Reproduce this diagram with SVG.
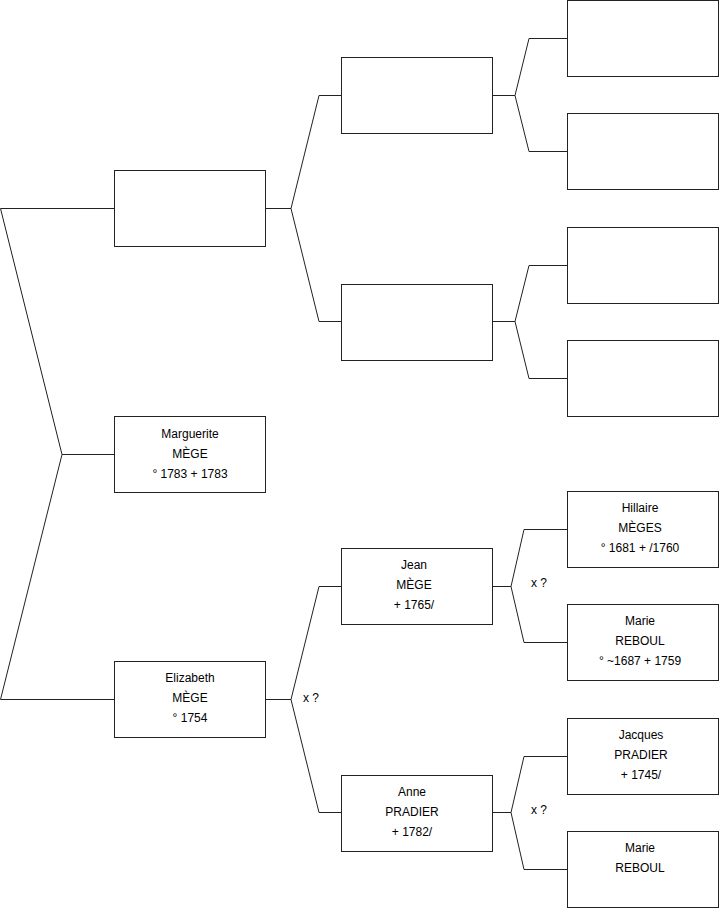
<svg xmlns="http://www.w3.org/2000/svg" width="719" height="908" viewBox="0 0 719 908">
<style>
.box{fill:#fff;stroke:#222;stroke-width:1}
.ln{fill:none;stroke:#222;stroke-width:1}
text{font-family:"Liberation Sans",Arial,sans-serif;font-size:12px;fill:#000;text-anchor:middle}
.lbl{text-anchor:start}
</style>
<rect width="719" height="908" fill="#fff"/>
<g id="connectors">
<path class="ln" d="M114,208.5H0.5L62,454.5L0.5,699.5H114M62,454.5H114"/>
<path class="ln" d="M265,208.5H291L319,95.5H341M291,208.5L319,321.5H341"/>
<path class="ln" d="M265,699.5H291L319,586.5H341M291,699.5L319,812.5H341"/>
<path class="ln" d="M492,95.5H515L529,38.5H567M515,95.5L529,151.5H567"/>
<path class="ln" d="M492,321.5H515L529,265.5H567M515,321.5L529,378.5H567"/>
<path class="ln" d="M492,586.5H511L524,529.5H567M511,586.5L524,642.5H567"/>
<path class="ln" d="M492,812.5H511L524,756.5H567M511,812.5L524,869.5H567"/>
<text class="lbl" x="303" y="702">x ?</text>
<text class="lbl" x="531" y="587">x ?</text>
<text class="lbl" x="531" y="814">x ?</text>
</g>
<g id="n1"><rect class="box" x="114.5" y="170.5" width="151" height="76"/></g>
<g id="n2"><rect class="box" x="114.5" y="416.5" width="151" height="76"/>
<text x="190" y="438">Marguerite</text><text x="190" y="458">MÈGE</text><text x="190" y="478">° 1783 + 1783</text></g>
<g id="n3"><rect class="box" x="114.5" y="661.5" width="151" height="76"/>
<text x="190" y="682">Elizabeth</text><text x="190" y="702">MÈGE</text><text x="190" y="722">° 1754</text></g>
<g id="n4"><rect class="box" x="341.5" y="57.5" width="151" height="76"/></g>
<g id="n5"><rect class="box" x="341.5" y="284.5" width="151" height="76"/></g>
<g id="n6"><rect class="box" x="341.5" y="548.5" width="151" height="76"/>
<text x="414" y="569">Jean</text><text x="414" y="589">MÈGE</text><text x="414" y="609">+ 1765/</text></g>
<g id="n7"><rect class="box" x="341.5" y="775.5" width="151" height="76"/>
<text x="412" y="796">Anne</text><text x="412" y="816">PRADIER</text><text x="412" y="836">+ 1782/</text></g>
<g id="n8"><rect class="box" x="567.5" y="0.5" width="151" height="76"/></g>
<g id="n9"><rect class="box" x="567.5" y="113.5" width="151" height="76"/></g>
<g id="n10"><rect class="box" x="567.5" y="227.5" width="151" height="76"/></g>
<g id="n11"><rect class="box" x="567.5" y="340.5" width="151" height="76"/></g>
<g id="n12"><rect class="box" x="567.5" y="491.5" width="151" height="76"/>
<text x="640" y="512">Hillaire</text><text x="640" y="532">MÈGES</text><text x="640" y="552">° 1681 + /1760</text></g>
<g id="n13"><rect class="box" x="567.5" y="604.5" width="151" height="76"/>
<text x="640" y="625">Marie</text><text x="640" y="645">REBOUL</text><text x="640" y="665">° ~1687 + 1759</text></g>
<g id="n14"><rect class="box" x="567.5" y="718.5" width="151" height="76"/>
<text x="641" y="739">Jacques</text><text x="641" y="759">PRADIER</text><text x="641" y="779">+ 1745/</text></g>
<g id="n15"><rect class="box" x="567.5" y="831.5" width="151" height="76"/>
<text x="640" y="852">Marie</text><text x="640" y="872">REBOUL</text></g>
</svg>
